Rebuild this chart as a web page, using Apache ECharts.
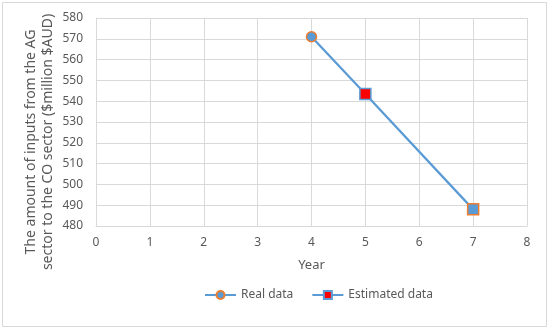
<!DOCTYPE html>
<html><head><meta charset="utf-8">
<script src="https://cdn.jsdelivr.net/npm/echarts@6/dist/echarts.min.js"></script>
<style>html,body{margin:0;padding:0;background:#fff}#c{width:550px;height:330px}</style>
</head><body><div id="c"></div>
<script>
const realX = [4, 5, 7];
const realY = [571, 543.5, 488];
const estX = [5];
const estY = [543.5];
const xTicks = [0, 1, 2, 3, 4, 5, 6, 7, 8];
const yTicks = [480, 490, 500, 510, 520, 530, 540, 550, 560, 570, 580];
const yTitle = 'The amount of inputs from the AG\nsector to the CO sector ($million $AUD)';
const xTitle = 'Year';

const blue = '#5B9BD5', orange = '#ED7D31', txt = '#595959';
const font = 'Noto Sans';
const realData = realX.map((x, i) => {
  const d = {value: [x, realY[i]]};
  if (i === realX.length - 1) { d.symbol = 'rect'; d.symbolSize = 11; }
  return d;
});
const estData = estX.map((x, i) => [x, estY[i]]);

const chart = echarts.init(document.getElementById('c'));
chart.setOption({
  animation: false,
  textStyle: {fontFamily: font},
  grid: {left: 96, right: 23, top: 18, bottom: 104},
  graphic: [
    {type: 'rect', shape: {x: 2.5, y: 2.5, width: 544, height: 324}, style: {fill: 'none', stroke: '#d9d9d9', lineWidth: 1}, silent: true},
    {type: 'text', x: 40, y: 142, rotation: Math.PI / 2, silent: true,
     style: {text: yTitle, fill: txt, fontSize: 14, lineHeight: 17, fontFamily: font, align: 'center', verticalAlign: 'middle'}}
  ],
  xAxis: {
    type: 'value', min: xTicks[0], max: xTicks[xTicks.length - 1], interval: 1,
    name: xTitle, nameLocation: 'middle', nameGap: 33,
    nameTextStyle: {color: txt, fontSize: 13, fontFamily: font},
    axisLine: {show: true, lineStyle: {color: '#d9d9d9'}},
    axisTick: {show: false},
    axisLabel: {color: txt, fontSize: 12, margin: 11, fontFamily: font},
    splitLine: {show: true, lineStyle: {color: '#d9d9d9'}}
  },
  yAxis: {
    type: 'value', min: yTicks[0], max: yTicks[yTicks.length - 1], interval: 10,
    axisLine: {show: true, lineStyle: {color: '#d9d9d9'}},
    axisTick: {show: false},
    axisLabel: {color: txt, fontSize: 12, margin: 13, fontFamily: font},
    splitLine: {show: true, lineStyle: {color: '#d9d9d9'}}
  },
  legend: {
    bottom: 24, left: 199, itemWidth: 31, itemHeight: 10, itemGap: 18,
    textStyle: {color: txt, fontSize: 12, fontFamily: font},
    data: ['Real data', 'Estimated data']
  },
  series: [
    {
      name: 'Real data', type: 'line', data: realData,
      symbol: 'circle', symbolSize: 10,
      lineStyle: {color: blue, width: 2.25},
      itemStyle: {color: blue, borderColor: orange, borderWidth: 1.5},
      z: 2
    },
    {
      name: 'Estimated data', type: 'line', data: estData,
      symbol: 'rect', symbolSize: 11,
      lineStyle: {color: blue, width: 2.25},
      itemStyle: {color: '#FF0000', borderColor: blue, borderWidth: 1.5},
      z: 3
    }
  ]
});
</script></body></html>
